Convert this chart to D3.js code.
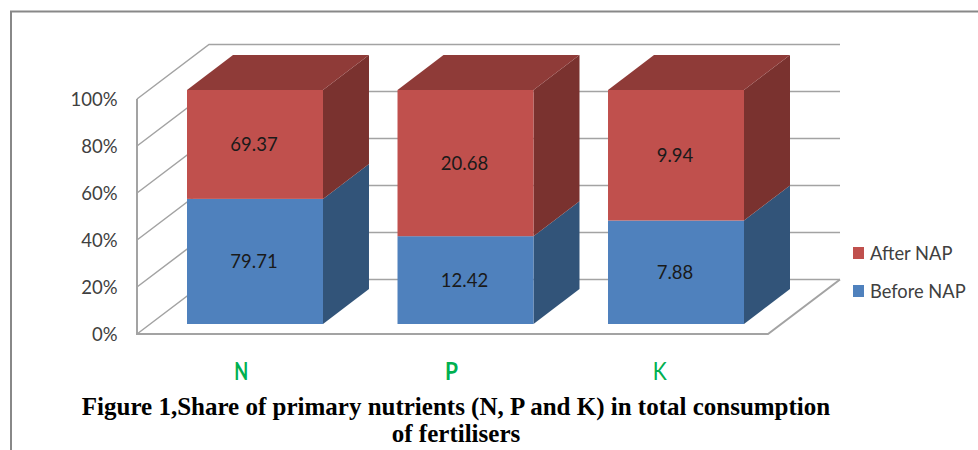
<!DOCTYPE html>
<html><head><meta charset="utf-8">
<script src="https://cdn.jsdelivr.net/npm/d3@7"></script>
<style>html,body{margin:0;padding:0;background:#fff}svg{display:block}</style></head>
<body><svg id="c" width="978" height="450"></svg>
<script>
const categories = ["N","P","K"];
const seriesNames = ["Before NAP","After NAP"];
const beforeNAP = [79.71,12.42,7.88];
const afterNAP = [69.37,20.68,9.94];
const yTicks = [0,0.2,0.4,0.6,0.8,1];
const titleLines = ["Figure 1,Share of primary nutrients (N, P and K) in total consumption","of fertilisers"];

const svg = d3.select("#c");
const font = "Lato, Carlito, sans-serif";
const colors = {
  "Before NAP":{front:"#4f81bd",side:"#325479",top:"#3f6797"},
  "After NAP":{front:"#c0504d",side:"#7a322f",top:"#8f3b38"}
};
const table = categories.map((c,i)=>({cat:c,"Before NAP":beforeNAP[i],"After NAP":afterNAP[i]}));
const stacked = d3.stack().keys(seriesNames).offset(d3.stackOffsetExpand)(table);

const x = d3.scaleBand().domain(categories).range([187,744]).paddingInner(0.354).paddingOuter(0);
const xWall = d3.scaleBand().domain(categories).range([137,768]);
const y = d3.scaleLinear().domain([0,1]).range([324,90]);
const yWall = d3.scaleLinear().domain([0,1]).range([334,99]);
const wallDepth = {dx:72,dy:-54.5}, barDepth = {dx:46,dy:-35};
const wallRight = 768;

// frame
svg.append("path").attr("d","M11,450V11.5H978").attr("fill","none").attr("stroke","#888").attr("stroke-width",2);

// grid
const grid = svg.append("g").attr("fill","none").attr("stroke","#a3a3a3").attr("stroke-width",1.5);
yTicks.forEach(t=>{
  const p = d3.path();
  p.moveTo(137,yWall(t));
  p.lineTo(137+wallDepth.dx,yWall(t)+wallDepth.dy);
  p.lineTo(wallRight+wallDepth.dx,yWall(t)+wallDepth.dy);
  grid.append("path").attr("d",p.toString());
});
const frame = d3.path();
frame.moveTo(137,yWall(1)); frame.lineTo(137,yWall(0)); frame.lineTo(wallRight,yWall(0));
frame.lineTo(wallRight+wallDepth.dx,yWall(0)+wallDepth.dy);
grid.append("path").attr("d",frame.toString()).attr("stroke-width",2);

// y axis labels
svg.append("g").selectAll("text").data(yTicks).join("text")
  .attr("x",117.5).attr("y",d=>yWall(d)+7).attr("text-anchor","end")
  .attr("font-family",font).attr("font-size",18.5).attr("fill","#404040")
  .text(d3.format(".0%"));

// bars
const bars = svg.append("g");
stacked.forEach(s=>{
  s.forEach(d=>{
    const c = colors[s.key], x0 = x(d.data.cat), x1 = x0+x.bandwidth();
    const yb = y(d[0]), yt = y(d[1]);
    const side = `M${x1},${yb}L${x1+barDepth.dx},${yb+barDepth.dy}L${x1+barDepth.dx},${yt+barDepth.dy}L${x1},${yt}Z`;
    bars.append("path").attr("d",side).attr("fill",c.side);
    if(d[1]===1){
      bars.append("path").attr("d",`M${x0},${yt}L${x0+barDepth.dx},${yt+barDepth.dy}L${x1+barDepth.dx},${yt+barDepth.dy}L${x1},${yt}Z`).attr("fill",c.top);
    }
    bars.append("rect").attr("x",x0).attr("y",yt).attr("width",x.bandwidth()).attr("height",yb-yt).attr("fill",c.front);
  });
});
// value labels
stacked.forEach(s=>{
  svg.append("g").selectAll("text").data(s).join("text")
    .attr("x",d=>x(d.data.cat)+x.bandwidth()/2-1)
    .attr("y",d=>(y(d[0])+y(d[1]))/2+7)
    .attr("text-anchor","middle").attr("font-family",font).attr("font-size",18.5).attr("fill","#1a1a1a")
    .text(d=>d.data[s.key].toFixed(2));
});

// category labels
svg.append("g").selectAll("text").data(categories).join("text")
  .attr("x",d=>xWall(d)+xWall.bandwidth()/2-1-(d==="K"?2:0)).attr("y",380).attr("text-anchor","middle")
  .attr("font-family","Lato, sans-serif").attr("font-size",25).attr("font-weight",d=>d==="K"?400:700).attr("fill","#00b050")
  .attr("textLength",d=>d==="P"?13:14).attr("lengthAdjust","spacingAndGlyphs")
  .text(d=>d);

// legend
const legendY = {"After NAP":253,"Before NAP":291};
const leg = svg.append("g").selectAll("g").data(["After NAP","Before NAP"]).join("g");
leg.append("rect").attr("x",853).attr("y",d=>legendY[d]-6).attr("width",11).attr("height",12).attr("fill",d=>colors[d].front);
leg.append("text").attr("x",870).attr("y",d=>legendY[d]+6.5).attr("font-family",font).attr("font-size",18.3).attr("fill","#404040").text(d=>d);

// title
svg.append("g").selectAll("text").data(titleLines).join("text")
  .attr("x",456).attr("y",(d,i)=>415+i*27).attr("text-anchor","middle")
  .attr("font-family","'Liberation Serif',serif").attr("font-weight",700).attr("font-size",25).attr("fill","#000")
  .text(d=>d);
</script></body></html>
